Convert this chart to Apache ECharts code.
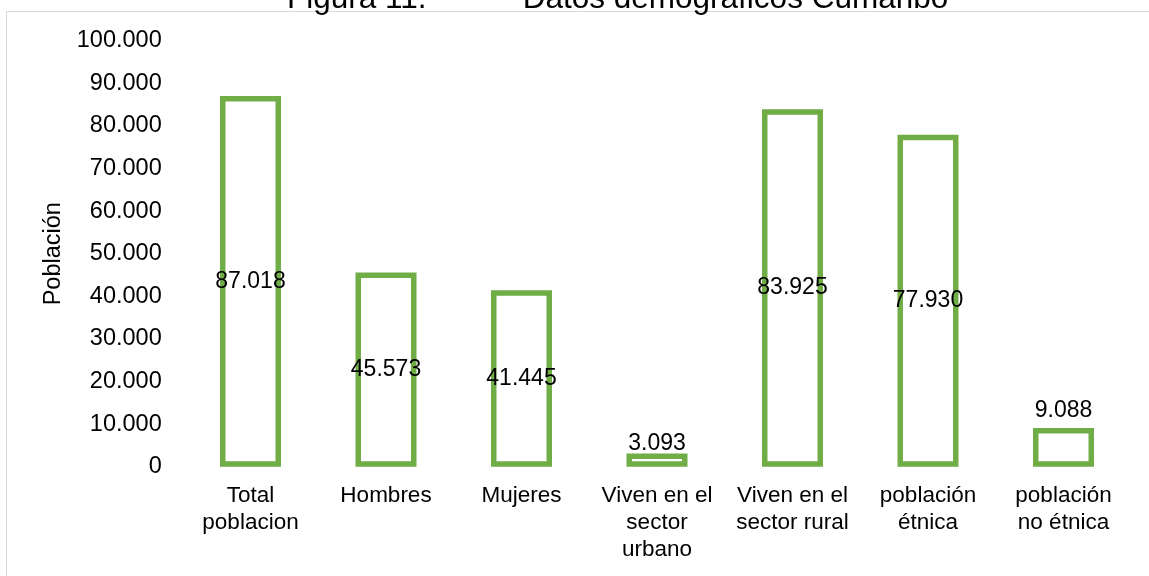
<!DOCTYPE html>
<html>
<head>
<meta charset="utf-8">
<script src="https://cdn.jsdelivr.net/npm/echarts@6/dist/echarts.min.js"></script>
<style>html,body{margin:0;padding:0;background:#fff;}#c{width:1149px;height:576px;}</style>
</head>
<body>
<div id="c"></div>
<script>
const categories = ['Total\npoblacion', 'Hombres', 'Mujeres', 'Viven en el\nsector\nurbano', 'Viven en el\nsector rural', 'población\nétnica', 'población\nno étnica'];
const values = [87018, 45573, 41445, 3093, 83925, 77930, 9088];
const yTicks = [0, 10000, 20000, 30000, 40000, 50000, 60000, 70000, 80000, 90000, 100000];
const titleText = 'Figura 11.           Datos demográficos Cumaribo';
const axisName = 'Población';

const FONT = '"Liberation Sans", Arial, sans-serif';
function fmt(v) {
  return String(v).replace(/\B(?=(\d{3})+(?!\d))/g, '.');
}
const chart = echarts.init(document.getElementById('c'), null, {renderer: 'canvas'});
const seriesData = values.map(v => {
  const small = v < 15000;
  return {
    value: v,
    label: small ? {position: 'top', distance: v < 5000 ? -2 : 6} : {position: 'inside'}
  };
});
chart.setOption({
  animation: false,
  backgroundColor: '#fff',
  title: {
    text: titleText,
    left: 282,
    top: -22,
    textStyle: {fontFamily: FONT, fontSize: 31.5, fontWeight: 'normal', color: '#000'}
  },
  graphic: [{
    type: 'rect',
    shape: {x: 6.5, y: 11.5, width: 1200, height: 700},
    style: {fill: 'none', stroke: '#D9D9D9', lineWidth: 1},
    silent: true
  }],
  grid: {left: 182.75, right: 17.75, top: 40.7, bottom: 109.3, containLabel: false},
  xAxis: {
    type: 'category',
    data: categories,
    axisLine: {show: false},
    axisTick: {show: false},
    axisLabel: {fontFamily: FONT, fontSize: 22.5, color: '#000', lineHeight: 27, margin: 16, interval: 0}
  },
  yAxis: {
    type: 'value',
    min: yTicks[0],
    max: yTicks[yTicks.length - 1],
    interval: yTicks[1] - yTicks[0],
    name: axisName,
    nameLocation: 'middle',
    nameRotate: 90,
    nameGap: 117,
    nameTextStyle: {fontFamily: FONT, fontSize: 23.5, color: '#000'},
    axisLine: {show: false},
    axisTick: {show: false},
    splitLine: {show: false},
    axisLabel: {fontFamily: FONT, fontSize: 23.5, color: '#000', margin: 21, formatter: v => fmt(v)}
  },
  series: [{
    type: 'bar',
    data: seriesData,
    barWidth: 61,
    itemStyle: {color: '#FFFFFF', borderColor: '#70AD47', borderWidth: 5.5},
    label: {
      show: true,
      fontFamily: FONT,
      fontSize: 23,
      color: '#000',
      formatter: p => fmt(p.value)
    }
  }]
});
</script>
</body>
</html>
